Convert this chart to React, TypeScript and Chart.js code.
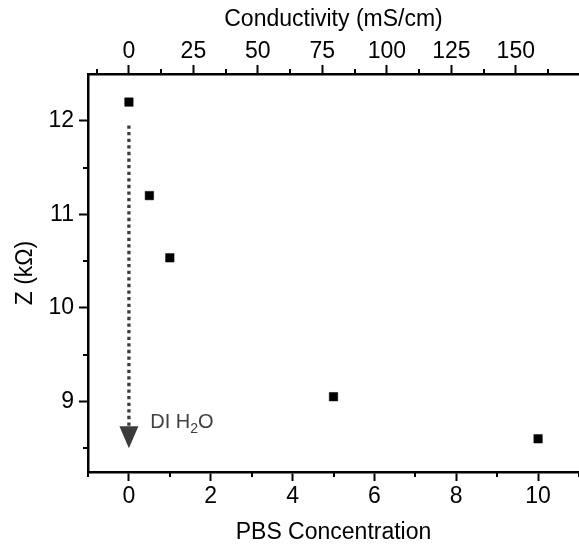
import React, { useEffect, useRef } from 'react';
import { Chart, registerables } from 'chart.js';

Chart.register(...registerables);

// ---- data ----
const PBS_CONCENTRATION = [0, 0.5, 1, 5, 10];
const IMPEDANCE_KOHM = [12.2, 11.2, 10.535, 9.05, 8.6];

// ---- axes ----
const X_RANGE = [-1, 11];
const Y_RANGE = [8.245, 12.5];
const TOP_RANGE = [-15.86, 174.5];
const X_MAJOR_TICKS = [0, 2, 4, 6, 8, 10];
const Y_MAJOR_TICKS = [9, 10, 11, 12];
const TOP_MAJOR_TICKS = [0, 25, 50, 75, 100, 125, 150];
const X_MINOR_TICKS = [-1, 1, 3, 5, 7, 9, 11];
const Y_MINOR_TICKS = [8.5, 9.5, 10.5, 11.5];
const TOP_MINOR_TICKS = [-12.5, 12.5, 37.5, 62.5, 87.5, 112.5, 137.5, 162.5];

// ---- annotation (data coordinates) ----
const ARROW_X = 0;
const ARROW_FROM = 11.95;
const ARROW_TO = 8.5;
const NOTE_X = 0.52;
const NOTE_Y = 8.72;

const FONT = '"Liberation Sans", Arial, Helvetica, sans-serif';

const overlayPlugin = {
  id: 'overlay',
  afterDatasetsDraw(chart: any) {
    const ctx = chart.ctx;
    const xs = chart.scales.x;
    const ys = chart.scales.y;
    const ts = chart.scales.x2;
    const a = chart.chartArea;
    ctx.save();
    // minor ticks
    ctx.strokeStyle = '#000';
    ctx.lineWidth = 2;
    ctx.beginPath();
    X_MINOR_TICKS.forEach((v) => {
      const p = Math.round(xs.getPixelForValue(v));
      ctx.moveTo(p, a.bottom);
      ctx.lineTo(p, a.bottom + 5);
    });
    TOP_MINOR_TICKS.forEach((v) => {
      const p = Math.round(ts.getPixelForValue(v));
      ctx.moveTo(p, a.top);
      ctx.lineTo(p, a.top - 5);
    });
    Y_MINOR_TICKS.forEach((v) => {
      const p = Math.round(ys.getPixelForValue(v));
      ctx.moveTo(a.left, p);
      ctx.lineTo(a.left - 5, p);
    });
    ctx.stroke();

    // dotted arrow
    const ax = xs.getPixelForValue(ARROW_X);
    const y0 = ys.getPixelForValue(ARROW_FROM);
    const tip = ys.getPixelForValue(ARROW_TO);
    const headLen = 22;
    ctx.strokeStyle = '#3c3c3c';
    ctx.lineWidth = 3.3;
    ctx.setLineDash([3.3, 3.3]);
    ctx.beginPath();
    ctx.moveTo(ax, y0);
    ctx.lineTo(ax, tip - headLen + 2);
    ctx.stroke();
    ctx.setLineDash([]);
    ctx.fillStyle = '#3c3c3c';
    ctx.beginPath();
    ctx.moveTo(ax - 9.5, tip - headLen);
    ctx.lineTo(ax + 9.5, tip - headLen);
    ctx.lineTo(ax, tip);
    ctx.closePath();
    ctx.fill();

    // DI H2O label
    const tx = xs.getPixelForValue(NOTE_X);
    const ty = ys.getPixelForValue(NOTE_Y);
    ctx.fillStyle = '#404040';
    ctx.textBaseline = 'alphabetic';
    ctx.textAlign = 'left';
    ctx.font = `20px ${FONT}`;
    const part1 = 'DI H';
    ctx.fillText(part1, tx, ty);
    let cx = tx + ctx.measureText(part1).width;
    ctx.font = `14px ${FONT}`;
    ctx.fillText('2', cx, ty + 5);
    cx += ctx.measureText('2').width;
    ctx.font = `20px ${FONT}`;
    ctx.fillText('O', cx, ty);
    ctx.restore();
  },
};

const setTicks = (values: number[]) => (s: any) => {
  s.ticks = values.map((value) => ({ value }));
};

export default function App() {
  const ref = useRef<HTMLCanvasElement>(null);
  useEffect(() => {
    if (!ref.current) return;
    const tickFont = { family: FONT, size: 23 };
    const grid = { drawOnChartArea: false, drawTicks: true, tickLength: 9, tickWidth: 2, tickColor: '#000' };
    const border = { display: true, width: 2.5, color: '#000' };
    const chart = new Chart(ref.current, {
      type: 'scatter',
      data: {
        datasets: [
          {
            data: PBS_CONCENTRATION.map((x, i) => ({ x, y: IMPEDANCE_KOHM[i] })),
            pointStyle: 'rect',
            pointRadius: 6,
            pointHoverRadius: 6,
            backgroundColor: '#000',
            borderColor: '#000',
            borderWidth: 0.5,
            xAxisID: 'x',
            yAxisID: 'y',
          },
        ],
      },
      options: {
        responsive: false,
        animation: false,
        events: [],
        layout: { padding: 0, autoPadding: false },
        plugins: { legend: { display: false }, tooltip: { enabled: false } },
        scales: {
          x: {
            type: 'linear',
            position: 'bottom',
            min: X_RANGE[0],
            max: X_RANGE[1],
            afterBuildTicks: setTicks(X_MAJOR_TICKS),
            afterFit: (s: any) => { s.height = 74; s.paddingLeft = 0; s.paddingRight = 0; },
            ticks: { font: tickFont, color: '#000', padding: 2, maxRotation: 0, autoSkip: false },
            grid,
            border,
            title: { display: true, text: 'PBS Concentration', font: tickFont, color: '#000', padding: { top: 0, bottom: 0 } },
          },
          x2: {
            type: 'linear',
            position: 'top',
            min: TOP_RANGE[0],
            max: TOP_RANGE[1],
            afterBuildTicks: setTicks(TOP_MAJOR_TICKS),
            afterFit: (s: any) => { s.height = 74; s.paddingLeft = 0; s.paddingRight = 0; },
            ticks: { font: tickFont, color: '#000', padding: 0, maxRotation: 0, autoSkip: false },
            grid,
            border,
            title: { display: true, text: 'Conductivity (mS/cm)', font: tickFont, color: '#000', padding: { top: 6, bottom: 0 } },
          },
          y: {
            type: 'linear',
            position: 'left',
            min: Y_RANGE[0],
            max: Y_RANGE[1],
            afterBuildTicks: setTicks(Y_MAJOR_TICKS),
            afterFit: (s: any) => { s.width = 88; s.paddingTop = 0; s.paddingBottom = 0; },
            ticks: { font: tickFont, color: '#000', padding: 5, autoSkip: false },
            grid,
            border,
            title: { display: true, text: 'Z (kΩ)', font: tickFont, color: '#000', padding: { top: 12, bottom: 0 } },
          },
        },
      },
      plugins: [overlayPlugin],
    });
    return () => chart.destroy();
  }, []);
  return (
    <canvas
      ref={ref}
      width={579}
      height={546}
      style={{ position: 'absolute', left: 0, top: 0, width: 579, height: 546, display: 'block' }}
    />
  );
}
